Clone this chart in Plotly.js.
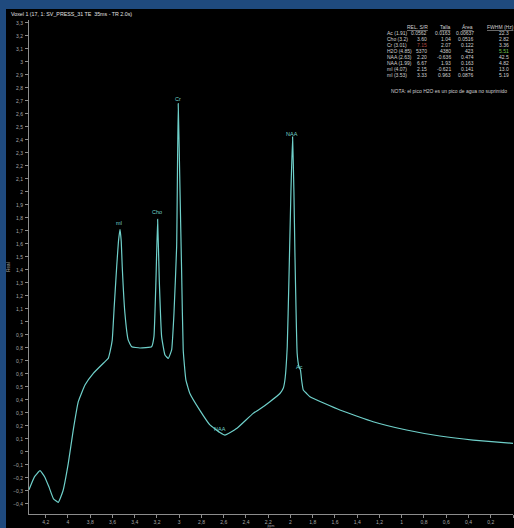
<!DOCTYPE html>
<html><head><meta charset="utf-8">
<script src="https://cdn.plot.ly/plotly-3.0.1.min.js"></script>
<style>
html,body{margin:0;padding:0;background:#1f4a7e;width:514px;height:528px;overflow:hidden}
#chart{position:absolute;left:6px;top:9px;width:508px;height:519px}
</style>
</head><body><div id="chart"></div>
<script>
// Spectrum (chemical shift in ppm, real part)
const ppm  = [4.35, 4.30, 4.251, 4.21, 4.17, 4.13, 4.087, 4.045, 3.997, 3.952, 3.907, 3.847, 3.772, 3.667, 3.638, 3.622, 3.602, 3.584, 3.562, 3.546, 3.532, 3.521, 3.512, 3.488, 3.458, 3.427, 3.353, 3.248, 3.227, 3.209, 3.194, 3.179, 3.158, 3.128, 3.098, 3.068, 3.047, 3.023, 3.009, 2.993, 2.978, 2.964, 2.940, 2.904, 2.814, 2.724, 2.634, 2.589, 2.484, 2.335, 2.275, 2.185, 2.095, 2.065, 2.050, 2.029, 2.014, 1.996, 1.981, 1.969, 1.960, 1.940, 1.925, 1.910, 1.900, 1.885, 1.855, 1.825, 1.556, 1.257, 0.957, 0.657, 0.358, 0.0];
const real = [-0.29, -0.19, -0.144, -0.19, -0.27, -0.36, -0.387, -0.30, -0.087, 0.17, 0.387, 0.515, 0.605, 0.695, 0.72, 0.77, 0.86, 1.12, 1.425, 1.62, 1.713, 1.62, 1.425, 1.067, 0.86, 0.81, 0.80, 0.81, 0.887, 1.32, 1.79, 1.32, 0.887, 0.746, 0.72, 0.785, 1.067, 1.58, 2.68, 2.015, 1.377, 0.785, 0.554, 0.45, 0.32, 0.208, 0.15, 0.13, 0.18, 0.297, 0.33, 0.387, 0.45, 0.49, 0.554, 0.81, 1.32, 2.0, 2.425, 2.0, 1.53, 0.76, 0.66, 0.63, 0.554, 0.477, 0.45, 0.425, 0.323, 0.233, 0.169, 0.123, 0.092, 0.067];

// Peak labels
const peakNames = ['mI', 'Cho', 'Cr', 'NAA', 'NAA', 'Ac'];
const peakPpm   = [3.538, 3.197, 3.009, 1.985, 2.634, 1.915];
const peakVal   = [1.759, 1.848, 2.715, 2.446, 0.177, 0.656];

// Quantification table
const tableHeaders = ['REL. S/R', 'Talla', 'Área', 'FWHM (Hz)'];
const metabolites  = ['Ac (1.91)', 'Cho (3.2)', 'Cr (3.01)', 'H2O (4.85)', 'NAA (2.63)', 'NAA (1.99)', 'mI (4.07)', 'mI (3.53)'];
const relSR  = ['0.0562', '3.60', '7.15', '5370', '2.20', '6.67', '2.15', '3.33'];
const talla  = ['0.0163', '1.04', '2.07', '4380', '-0.636', '1.93', '-0.621', '0.963'];
const area   = ['0.00637', '0.0516', '0.122', '423', '0.474', '0.163', '0.141', '0.0876'];
const fwhm   = ['22.3', '2.82', '3.36', '5.51', '42.5', '4.82', '13.0', '5.19'];
const noteText = 'NOTA: el pico H2O es un pico de agua no suprimido';
const titleText = 'Voxel 1 (17, 1: SV_PRESS_31 TE  35ms - TR 2.0s)';

const FONT = '"Liberation Sans", Arial, sans-serif';
const TXT = '#d0d0d0';
const LINE = '#6fd0ca';
const FS = 5;

// page pixel -> paper coords (plot area spans x 29..513, y 20..514 on page)
const xp = px => (px - 29) / 484;
const yp = py => (514 - py) / 494;

const ann = [];
peakNames.forEach((n, i) => ann.push({
  x: peakPpm[i], y: peakVal[i], xref: 'x', yref: 'y', text: n, showarrow: false,
  xanchor: 'center', yanchor: 'middle', font: {family: FONT, size: 5.5, color: LINE}
}));

// table header
const hdrRight = [430, 453, 475];
for (let c = 0; c < 3; c++) {
  ann.push({x: xp(hdrRight[c]), y: yp(26.5), xref: 'paper', yref: 'paper', text: '<u>' + tableHeaders[c] + '</u>',
    showarrow: false, xanchor: 'right', yanchor: 'middle', font: {family: FONT, size: FS, color: TXT}});
}
ann.push({x: xp(485), y: yp(26.5), xref: 'paper', yref: 'paper', text: '<u>' + tableHeaders[3] + '</u>',
  showarrow: false, xanchor: 'left', yanchor: 'middle', font: {family: FONT, size: FS, color: TXT}});

metabolites.forEach((m, i) => {
  const y = yp(32.5 + 6.05 * i);
  const base = {xref: 'paper', yref: 'paper', showarrow: false, yanchor: 'middle'};
  ann.push(Object.assign({}, base, {x: xp(385), y, text: m, xanchor: 'left', font: {family: FONT, size: FS, color: TXT}}));
  ann.push(Object.assign({}, base, {x: xp(429), y, text: relSR[i], xanchor: 'right', font: {family: FONT, size: FS, color: i === 2 ? '#b04a40' : TXT}}));
  ann.push(Object.assign({}, base, {x: xp(453), y, text: talla[i], xanchor: 'right', font: {family: FONT, size: FS, color: TXT}}));
  ann.push(Object.assign({}, base, {x: xp(476), y, text: area[i], xanchor: 'right', font: {family: FONT, size: FS, color: TXT}}));
  ann.push(Object.assign({}, base, {x: xp(511), y, text: fwhm[i], xanchor: 'right', font: {family: FONT, size: FS, color: i === 3 ? '#70c850' : TXT}}));
});
ann.push({x: xp(449), y: yp(91), xref: 'paper', yref: 'paper', text: noteText, showarrow: false,
  xanchor: 'center', yanchor: 'middle', font: {family: FONT, size: FS, color: TXT}});

const trace = {x: ppm, y: real, type: 'scatter', mode: 'lines',
  line: {color: LINE, width: 1.2, shape: 'spline', smoothing: 0.35}, hoverinfo: 'skip'};

const axisCommon = {showgrid: false, zeroline: false, showline: true, linecolor: '#8c8c8c', linewidth: 1,
  ticks: 'outside', ticklen: 3, tickcolor: '#8c8c8c', tickwidth: 1,
  tickfont: {family: FONT, size: 5, color: '#a8a8a8'}};

const layout = {
  width: 508, height: 519,
  paper_bgcolor: '#000', plot_bgcolor: '#000',
  margin: {l: 23, r: 1, t: 11, b: 14},
  showlegend: false,
  separators: ',.',
  title: {text: titleText, xref: 'container', yref: 'container', x: 5 / 508, xanchor: 'left',
    y: 1 - 5.5 / 519, yanchor: 'middle', font: {family: FONT, size: 5.3, color: '#e0e0e0'}},
  xaxis: Object.assign({}, axisCommon, {range: [4.35, 0], dtick: 0.2, tick0: 0,
    title: {text: 'ppm', font: {family: FONT, size: 3.5, color: '#a8a8a8'}, standoff: 3}}),
  yaxis: Object.assign({}, axisCommon, {range: [-0.477, 3.323], dtick: 0.1, tick0: 0, ticklabelstandoff: 1,
    title: {text: 'Real', font: {family: FONT, size: 4.5, color: '#a8a8a8'}, standoff: 3}}),
  annotations: ann
};

Plotly.newPlot('chart', [trace], layout, {displayModeBar: false, staticPlot: true});
</script>
</body></html>
